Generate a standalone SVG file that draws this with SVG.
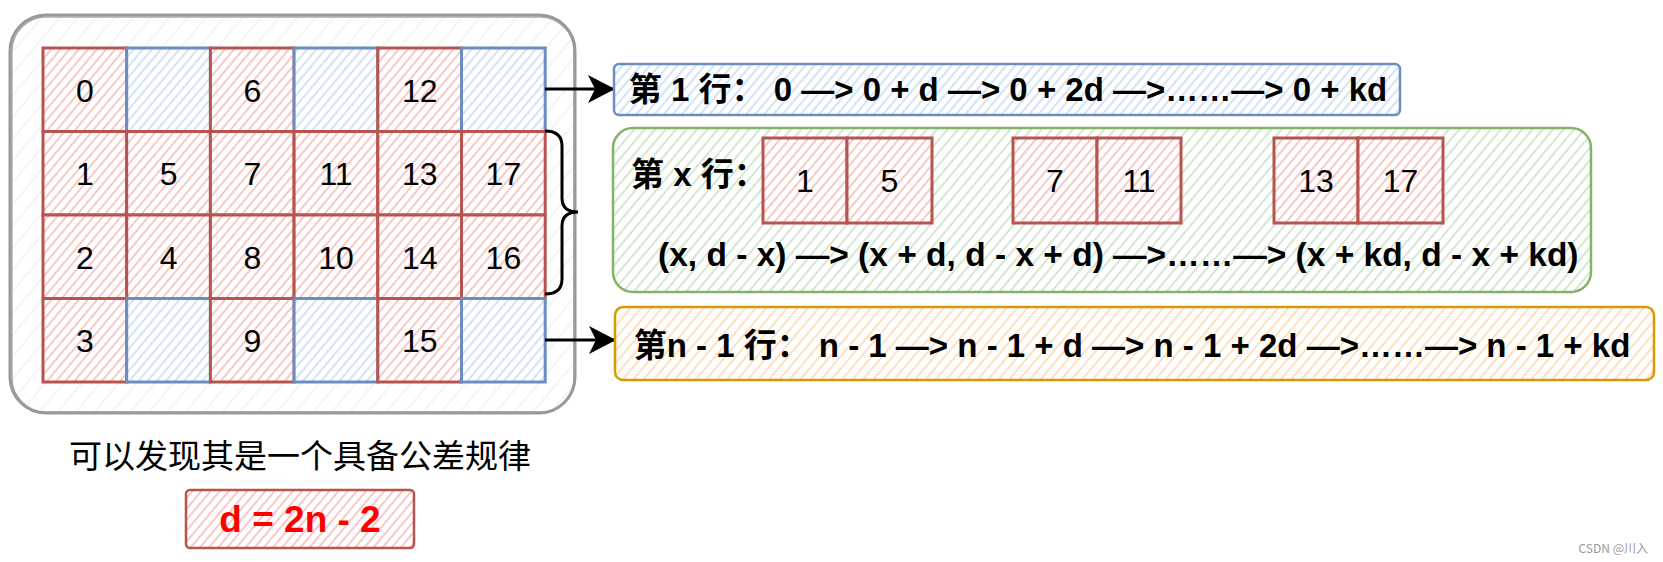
<svg xmlns="http://www.w3.org/2000/svg" width="1663" height="562" viewBox="0 0 1663 562">
<style>
.num{font-family:"Liberation Sans","Noto Sans CJK SC",sans-serif;font-size:32px;fill:#000;text-anchor:middle}
.bt{font-family:"Liberation Sans","Noto Sans CJK SC",sans-serif;font-weight:bold;font-size:33px;fill:#000}
.cn{font-family:"Noto Sans CJK SC",sans-serif;font-size:33px;fill:#000;text-anchor:middle}
.red{fill:url(#hR);stroke:#b85450;stroke-width:3}
.blue{fill:url(#hB);stroke:#6c8ebf;stroke-width:3}
.conn{stroke:#000;stroke-width:3;fill:none}
</style>
<defs>
<pattern id="hR" width="7" height="7" patternUnits="userSpaceOnUse" patternTransform="rotate(40)"><rect width="7" height="7" fill="#fff"/><line x1="1" y1="0" x2="1" y2="7" stroke="#f4bcb9" stroke-width="1.6"/></pattern>
<pattern id="hB" width="7" height="7" patternUnits="userSpaceOnUse" patternTransform="rotate(40)"><rect width="7" height="7" fill="#fff"/><line x1="1" y1="0" x2="1" y2="7" stroke="#c9dcf6" stroke-width="1.6"/></pattern>
<pattern id="hG" width="8" height="8" patternUnits="userSpaceOnUse" patternTransform="rotate(40)"><rect width="8" height="8" fill="#fff"/><line x1="1" y1="0" x2="1" y2="8" stroke="#c8e1c6" stroke-width="1.6"/></pattern>
<pattern id="hO" width="8" height="8" patternUnits="userSpaceOnUse" patternTransform="rotate(40)"><rect width="8" height="8" fill="#fff"/><line x1="1" y1="0" x2="1" y2="8" stroke="#ffd9ad" stroke-width="1.6"/></pattern>
<pattern id="hK" width="14" height="14" patternUnits="userSpaceOnUse" patternTransform="rotate(40)"><rect width="14" height="14" fill="#fff"/><line x1="1" y1="0" x2="1" y2="14" stroke="#f1f1f1" stroke-width="1.5"/></pattern>
<marker id="arr" viewBox="0 0 27 28" refX="26" refY="14" markerWidth="27" markerHeight="28" markerUnits="userSpaceOnUse" orient="auto"><path d="M0,0 L27,14 L0,28 L7,14 Z" fill="#000"/></marker>
</defs>
<rect width="1663" height="562" fill="#fff"/>

<g id="container">
<rect x="10" y="15" width="565" height="398" rx="36" fill="url(#hK)" stroke="#999" stroke-width="3"/>
<rect x="12" y="17" width="562" height="395" rx="34" fill="none" stroke="#999" stroke-width="1.5" opacity="0.8"/>
</g>

<g id="grid">
<g id="c0"><rect class="red" x="43" y="48" width="83.7" height="83.5"/><text class="num" x="84.9" y="101.5">0</text></g>
<g id="c1"><rect class="blue" x="126.7" y="48" width="83.7" height="83.5"/></g>
<g id="c6"><rect class="red" x="210.4" y="48" width="83.7" height="83.5"/><text class="num" x="252.3" y="101.5">6</text></g>
<g id="c3"><rect class="blue" x="294.1" y="48" width="83.7" height="83.5"/></g>
<g id="c12"><rect class="red" x="377.8" y="48" width="83.7" height="83.5"/><text class="num" x="419.7" y="101.5">12</text></g>
<g id="c5"><rect class="blue" x="461.5" y="48" width="83.7" height="83.5"/></g>

<g id="c_1"><rect class="red" x="43" y="131.5" width="83.7" height="83.5"/><text class="num" x="84.9" y="185">1</text></g>
<g id="c_5"><rect class="red" x="126.7" y="131.5" width="83.7" height="83.5"/><text class="num" x="168.6" y="185">5</text></g>
<g id="c_7"><rect class="red" x="210.4" y="131.5" width="83.7" height="83.5"/><text class="num" x="252.3" y="185">7</text></g>
<g id="c_11"><rect class="red" x="294.1" y="131.5" width="83.7" height="83.5"/><text class="num" x="336" y="185">11</text></g>
<g id="c_13"><rect class="red" x="377.8" y="131.5" width="83.7" height="83.5"/><text class="num" x="419.7" y="185">13</text></g>
<g id="c_17"><rect class="red" x="461.5" y="131.5" width="83.7" height="83.5"/><text class="num" x="503.4" y="185">17</text></g>

<g id="c_2"><rect class="red" x="43" y="215" width="83.7" height="83.5"/><text class="num" x="84.9" y="268.5">2</text></g>
<g id="c_4"><rect class="red" x="126.7" y="215" width="83.7" height="83.5"/><text class="num" x="168.6" y="268.5">4</text></g>
<g id="c_8"><rect class="red" x="210.4" y="215" width="83.7" height="83.5"/><text class="num" x="252.3" y="268.5">8</text></g>
<g id="c_10"><rect class="red" x="294.1" y="215" width="83.7" height="83.5"/><text class="num" x="336" y="268.5">10</text></g>
<g id="c_14"><rect class="red" x="377.8" y="215" width="83.7" height="83.5"/><text class="num" x="419.7" y="268.5">14</text></g>
<g id="c_16"><rect class="red" x="461.5" y="215" width="83.7" height="83.5"/><text class="num" x="503.4" y="268.5">16</text></g>

<g id="c_3"><rect class="red" x="43" y="298.5" width="83.7" height="83.5"/><text class="num" x="84.9" y="352">3</text></g>
<g id="c_b1"><rect class="blue" x="126.7" y="298.5" width="83.7" height="83.5"/></g>
<g id="c_9"><rect class="red" x="210.4" y="298.5" width="83.7" height="83.5"/><text class="num" x="252.3" y="352">9</text></g>
<g id="c_b2"><rect class="blue" x="294.1" y="298.5" width="83.7" height="83.5"/></g>
<g id="c_15"><rect class="red" x="377.8" y="298.5" width="83.7" height="83.5"/><text class="num" x="419.7" y="352">15</text></g>
<g id="c_b3"><rect class="blue" x="461.5" y="298.5" width="83.7" height="83.5"/></g>
</g>

<g id="brace">
<path class="conn" d="M545,131 Q562,131 562,146 L562,198 Q562,212 578,212 Q562,212 562,226 L562,279 Q562,294 545,294"/>
</g>

<g id="connectors">
<path class="conn" d="M545,89 L614,89" marker-end="url(#arr)"/>
<path class="conn" d="M545,340 L615,340" marker-end="url(#arr)"/>
</g>

<g id="row1">
<rect x="614" y="64" width="786" height="51" rx="5" fill="url(#hB)" stroke="#6c8ebf" stroke-width="2.5"/>
<text class="bt" x="1008" y="101" text-anchor="middle">第 1 行： 0 —&gt; 0 + d —&gt; 0 + 2d —&gt;……—&gt; 0 + kd</text>
</g>

<g id="rowx">
<rect x="613" y="128" width="978" height="164" rx="20" fill="url(#hG)" stroke="#82b366" stroke-width="2.5"/>
<text class="bt" x="631" y="186">第 x 行：</text>
<rect class="red" x="763" y="138" width="84" height="85"/><text class="num" x="805" y="192">1</text>
<rect class="red" x="847" y="138" width="85" height="85"/><text class="num" x="889.5" y="192">5</text>
<rect class="red" x="1013" y="138" width="84" height="85"/><text class="num" x="1055" y="192">7</text>
<rect class="red" x="1097" y="138" width="84" height="85"/><text class="num" x="1139" y="192">11</text>
<rect class="red" x="1274" y="138" width="84" height="85"/><text class="num" x="1316" y="192">13</text>
<rect class="red" x="1358" y="138" width="85" height="85"/><text class="num" x="1400.5" y="192">17</text>
<text class="bt" x="658" y="266" style="font-size:33.5px">(x, d - x) —&gt; (x + d, d - x + d) —&gt;……—&gt; (x + kd, d - x + kd)</text>
</g>

<g id="rown">
<rect x="615" y="307" width="1039" height="73" rx="8" fill="url(#hO)" stroke="#d79b00" stroke-width="2.5"/>
<text class="bt" x="1132" y="357" text-anchor="middle">第n - 1 行： n - 1 —&gt; n - 1 + d —&gt; n - 1 + 2d —&gt;……—&gt; n - 1 + kd</text>
</g>

<g id="caption">
<text class="cn" x="300" y="468">可以发现其是一个具备公差规律</text>
</g>

<g id="formula">
<rect x="186" y="490" width="228" height="58" rx="4" fill="url(#hR)" stroke="#b85450" stroke-width="2.5"/>
<text x="300" y="532" text-anchor="middle" style="font-family:'Liberation Sans',sans-serif;font-weight:bold;font-size:37px;fill:#ff0000">d = 2n - 2</text>
</g>

<g id="watermark">
<text x="1648" y="553" text-anchor="end" style="font-family:'Noto Sans CJK SC',sans-serif;font-size:12px;fill:#999">CSDN @川入</text>
</g>
</svg>
